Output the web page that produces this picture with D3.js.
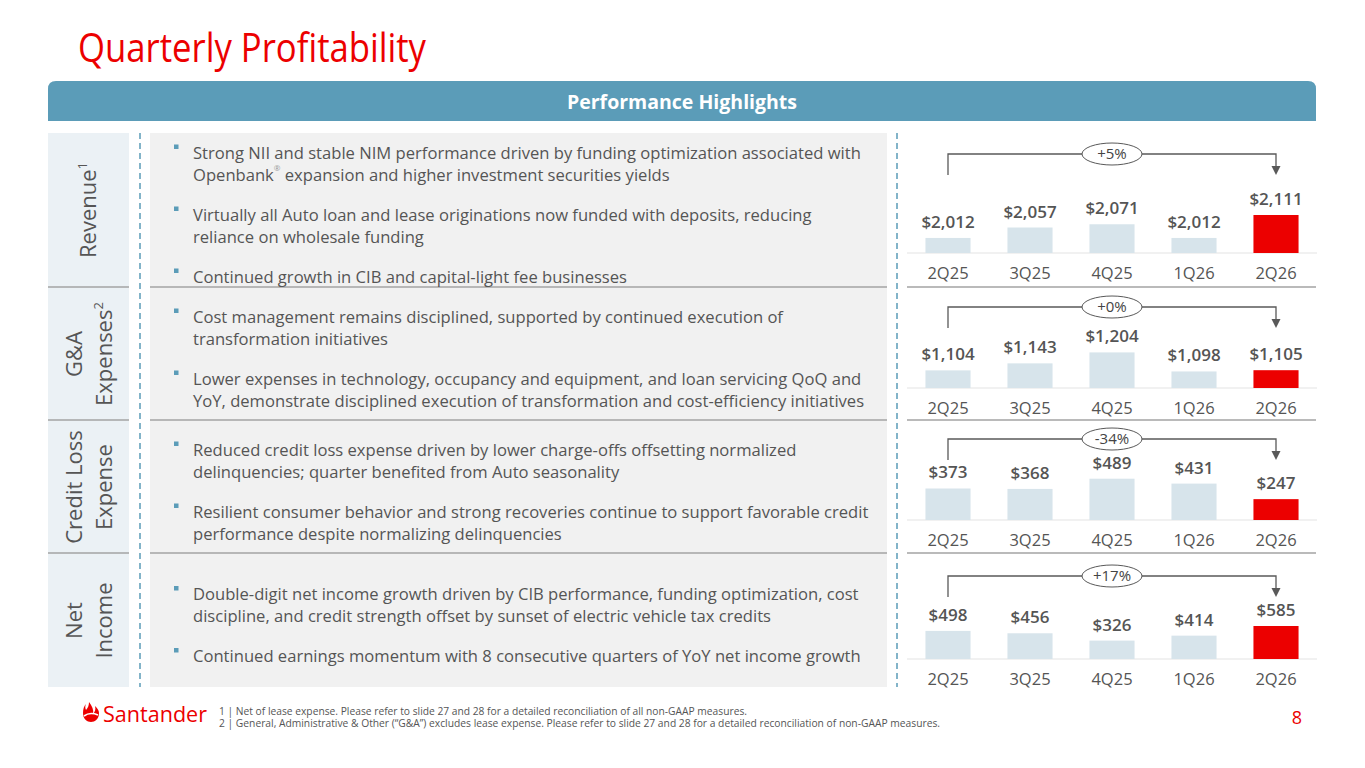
<!DOCTYPE html>
<html lang="en">
<head>
    <meta charset="UTF-8">
    <title>Quarterly Profitability</title>
    <script src="https://d3js.org/d3.v7.min.js"></script>
    <style>
        body { margin: 0; background: #fff; }
        svg { display: block; font-family: "Open Sans", sans-serif; }
    </style>
</head>
<body>
    <svg width="1365" height="768"></svg>

    <script>
        // data
        const quarters = ["2Q25", "3Q25", "4Q25", "1Q26", "2Q26"];
        const revenue = [2012, 2057, 2071, 2012, 2111];
        const gaExpenses = [1104, 1143, 1204, 1098, 1105];
        const creditLoss = [373, 368, 489, 431, 247];
        const netIncome = [498, 456, 326, 414, 585];
        const changeLabels = ["+5%", "+0%", "-34%", "+17%"];

        const rowLabels = [["Revenue"], ["G&A", "Expenses"], ["Credit Loss", "Expense"], ["Net", "Income"]];
        const rowSups = ["1", "2", "", ""];

        const revenueNotes = [
            ["Strong NII and stable NIM performance driven by funding optimization associated with", "Openbank® expansion and higher investment securities yields"],
            ["Virtually all Auto loan and lease originations now funded with deposits, reducing", "reliance on wholesale funding"],
            ["Continued growth in CIB and capital-light fee businesses"]
        ];
        const gaNotes = [
            ["Cost management remains disciplined, supported by continued execution of", "transformation initiatives"],
            ["Lower expenses in technology, occupancy and equipment, and loan servicing QoQ and", "YoY, demonstrate disciplined execution of transformation and cost-efficiency initiatives"]
        ];
        const creditNotes = [
            ["Reduced credit loss expense driven by lower charge-offs offsetting normalized", "delinquencies; quarter benefited from Auto seasonality"],
            ["Resilient consumer behavior and strong recoveries continue to support favorable credit", "performance despite normalizing delinquencies"]
        ];
        const incomeNotes = [
            ["Double-digit net income growth driven by CIB performance, funding optimization, cost", "discipline, and credit strength offset by sunset of electric vehicle tax credits"],
            ["Continued earnings momentum with 8 consecutive quarters of YoY net income growth"]
        ];

        const footnotes = [
            "1 | Net of lease expense. Please refer to slide 27 and 28 for a detailed reconciliation of all non-GAAP measures.",
            "2 | General, Administrative & Other (“G&A”) excludes lease expense. Please refer to slide 27 and 28 for a detailed reconciliation of non-GAAP measures."
        ];

        const red = "#ec0000";
        const teal = "#5b9cb8";
        const grey = "#555";

        // layout of the four rows
        const rows = [
            { top: 133, bottom: 287, values: revenue,    notes: revenueNotes, min: 1947, maxH: 38 },
            { top: 288, bottom: 420, values: gaExpenses, notes: gaNotes,      min: 1006, maxH: 35.6 },
            { top: 421, bottom: 553, values: creditLoss, notes: creditNotes,  min: 0,    maxH: 41.3 },
            { top: 554, bottom: 687, values: netIncome,  notes: incomeNotes,  min: 0,    maxH: 33 }
        ];
        const baselines = [253, 388, 520, 659];
        const bracketYs = [154, 307, 439, 576];

        const svg = d3.select("svg");

        // title
        svg.append("text")
            .attr("x", 78).attr("y", 62)
            .attr("textLength", 348).attr("lengthAdjust", "spacingAndGlyphs")
            .style("font-size", "40px").style("fill", red)
            .text("Quarterly Profitability");

        // header bar with rounded top corners
        const hx0 = 48, hx1 = 1316, hy0 = 81, hy1 = 121, r = 8;
        svg.append("path")
            .attr("d", `M${hx0},${hy1} V${hy0 + r} Q${hx0},${hy0} ${hx0 + r},${hy0} H${hx1 - r} Q${hx1},${hy0} ${hx1},${hy0 + r} V${hy1} Z`)
            .style("fill", teal);
        svg.append("text")
            .attr("x", (hx0 + hx1) / 2).attr("y", 109)
            .attr("text-anchor", "middle")
            .style("font-size", "19.5px").style("font-weight", 700).style("fill", "#fff")
            .text("Performance Highlights");

        // background panels
        svg.append("rect").attr("x", 48).attr("y", 133).attr("width", 81).attr("height", 554).style("fill", "#ebf1f5");
        svg.append("rect").attr("x", 150).attr("y", 133).attr("width", 737).attr("height", 554).style("fill", "#f1f1f1");

        // dashed dividers
        [140, 897].forEach(x => {
            svg.append("line")
                .attr("x1", x).attr("x2", x).attr("y1", 133).attr("y2", 687)
                .style("stroke", teal).style("stroke-width", 1.5).style("stroke-dasharray", "6,4");
        });

        // row separators
        rows.slice(0, 3).forEach(row => {
            const y = row.bottom;
            [[48, 129], [150, 887], [907, 1316]].forEach(([a, b]) => {
                svg.append("line")
                    .attr("x1", a).attr("x2", b).attr("y1", y).attr("y2", y)
                    .style("stroke", "#a3a3a3").style("stroke-width", 1.5);
            });
        });

        const x = d3.scaleBand()
            .domain(quarters)
            .range([907, 1317])
            .paddingInner(0.45)
            .paddingOuter(0.225);
        const fmt = d3.format("$,");

        rows.forEach((row, i) => {
            const mid = (row.top + row.bottom) / 2;

            // rotated row label
            const lab = svg.append("text")
                .attr("transform", `translate(${rowLabels[i].length === 1 ? 96 : 82},${mid}) rotate(-90)`)
                .attr("text-anchor", "middle")
                .style("font-size", "22px").style("fill", grey);
            rowLabels[i].forEach((t, j) => {
                lab.append("tspan").attr("x", 0).attr("dy", j === 0 ? 0 : 30).text(t);
                if (j === rowLabels[i].length - 1 && rowSups[i]) {
                    lab.append("tspan").attr("dy", -9).style("font-size", "13px").text(rowSups[i]);
                }
            });

            // bullet notes, centred in the row
            const lines = [];
            let off = 0;
            row.notes.forEach((note, k) => {
                if (k > 0) off += 40;
                note.forEach((ln, m) => {
                    if (m > 0) off += 22;
                    lines.push({ text: ln, off: off, first: m === 0 });
                });
            });
            const y0 = mid + 10.5 - off / 2;
            lines.forEach(l => {
                const by = y0 + l.off;
                if (l.first) {
                    svg.append("rect")
                        .attr("x", 174).attr("y", by - 14).attr("width", 4.5).attr("height", 4.5)
                        .style("fill", teal);
                }
                const t = svg.append("text")
                    .attr("x", 193).attr("y", by)
                    .style("font-size", "16.6px").style("fill", grey);
                const parts = l.text.split("®");
                t.append("tspan").text(parts[0]);
                if (parts.length > 1) {
                    t.append("tspan").attr("dy", -10).style("font-size", "8px").style("fill", "#999").text("®");
                    t.append("tspan").attr("dy", 10).text(parts[1]);
                }
            });

            // bar chart
            const base = baselines[i];
            const y = d3.scaleLinear()
                .domain([row.min, d3.max(row.values)])
                .range([base, base - row.maxH]);
            const g = svg.append("g");

            g.append("line")
                .attr("x1", 907).attr("x2", 1317).attr("y1", base).attr("y2", base)
                .style("stroke", "#e3e3e3").style("stroke-width", 1);

            g.selectAll("rect.bar")
                .data(row.values)
                .enter().append("rect")
                .attr("class", "bar")
                .attr("x", (d, k) => x(quarters[k]))
                .attr("y", d => y(d))
                .attr("width", x.bandwidth())
                .attr("height", d => base - y(d))
                .style("fill", (d, k) => k === quarters.length - 1 ? red : "#d7e4eb");

            g.selectAll("text.val")
                .data(row.values)
                .enter().append("text")
                .attr("class", "val")
                .attr("x", (d, k) => x(quarters[k]) + x.bandwidth() / 2)
                .attr("y", d => y(d) - 10)
                .attr("text-anchor", "middle")
                .style("font-size", "17px").style("font-weight", 600).style("fill", grey)
                .text(d => fmt(d));

            const axis = g.append("g")
                .attr("transform", `translate(0,${base})`)
                .call(d3.axisBottom(x).tickSize(0).tickPadding(14));
            axis.select(".domain").remove();
            axis.selectAll("text")
                .attr("dy", "0.71em")
                .style("font-family", "'Open Sans', sans-serif")
                .style("font-size", "16.5px").style("fill", grey);

            // change bracket from first to last quarter
            const xa = x(quarters[0]) + x.bandwidth() / 2;
            const xb = x(quarters[quarters.length - 1]) + x.bandwidth() / 2;
            const by = bracketYs[i];
            g.append("path")
                .attr("d", `M${xa},${by + 21} V${by} H${xb} V${by + 13}`)
                .style("fill", "none").style("stroke", "#595959").style("stroke-width", 1.3);
            g.append("path")
                .attr("d", `M${xb - 4.5},${by + 12} L${xb + 4.5},${by + 12} L${xb},${by + 21} Z`)
                .style("fill", "#595959");
            const xm = (xa + xb) / 2;
            g.append("ellipse")
                .attr("cx", xm).attr("cy", by).attr("rx", 30).attr("ry", 11)
                .style("fill", "#fff").style("stroke", "#595959").style("stroke-width", 1);
            g.append("text")
                .attr("x", xm).attr("y", by + 5)
                .attr("text-anchor", "middle")
                .style("font-size", "15px").style("fill", "#444")
                .text(changeLabels[i]);
        });

        // footer: logo, footnotes, page number
        const logo = svg.append("g").attr("transform", "translate(82,700)");
        logo.append("path")
            .attr("d", "M1,13 C1,19 5,22 9,22 C13,22 17,19 17,13 C17,10 15,8 13,6 C14,9 13,12 11,14 C12,10 10,6 7,2 C7,5 6,8 4,10 C3,8 3,6 4,4 C2,6 1,9 1,13 Z")
            .style("fill", red);
        logo.append("path")
            .attr("d", "M2,16 C6,13 11,13 16,15")
            .style("fill", "none").style("stroke", "#fff").style("stroke-width", 1.6);
        svg.append("text")
            .attr("x", 103).attr("y", 722)
            .attr("textLength", 104).attr("lengthAdjust", "spacingAndGlyphs")
            .style("font-size", "21px").style("fill", red)
            .text("Santander");

        footnotes.forEach((t, i) => {
            svg.append("text")
                .attr("x", 219).attr("y", 715 + i * 12)
                .attr("textLength", i === 0 ? 528 : 721).attr("lengthAdjust", "spacingAndGlyphs")
                .style("font-size", "10px").style("fill", grey)
                .text(t);
        });

        svg.append("text")
            .attr("x", 1297).attr("y", 724)
            .attr("text-anchor", "middle")
            .style("font-size", "18px").style("fill", red)
            .text("8");
    </script>
</body>
</html>
